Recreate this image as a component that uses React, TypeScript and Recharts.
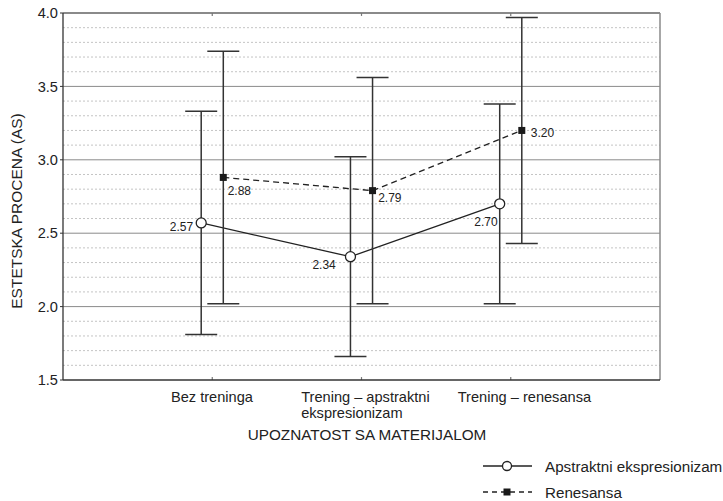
import React from 'react';
import { ComposedChart, Line, XAxis, YAxis, ErrorBar, ReferenceLine } from 'recharts';

const categories = ['Bez treninga', 'Trening – apstraktni\nekspresionizam', 'Trening – renesansa'];
const apstraktniMeans = [2.57, 2.34, 2.7];
const apstraktniErr = [0.76, 0.68, 0.68];
const renesansaMeans = [2.88, 2.79, 3.2];
const renesansaErr = [0.86, 0.77, 0.77];
const yTicks = [1.5, 2.0, 2.5, 3.0, 3.5, 4.0];
const seriesNames = ['Apstraktni ekspresionizam', 'Renesansa'];
const xAxisTitle = 'UPOZNATOST SA MATERIJALOM';
const yAxisTitle = 'ESTETSKA PROCENA (AS)';

const FONT = '"Liberation Sans", Arial, sans-serif';
const OFFSET = 0.074;

const apData = categories.map((_, i) => ({ x: i + 1 - OFFSET, y: apstraktniMeans[i], err: apstraktniErr[i] }));
const reData = categories.map((_, i) => ({ x: i + 1 + OFFSET, y: renesansaMeans[i], err: renesansaErr[i] }));

const minorValues: number[] = [];
for (let k = 16; k < 40; k++) {
  if (k % 5 !== 0) minorValues.push(k / 10);
}
const majorValues = [2.0, 2.5, 3.0, 3.5];

const apLabelPos = [
  { dx: -8, dy: 4.5, anchor: 'end' },
  { dx: -14.7, dy: 8, anchor: 'end' },
  { dx: -2, dy: 17.7, anchor: 'end' },
];
const reLabelPos = [
  { dx: 4.4, dy: 13.7, anchor: 'start' },
  { dx: 5.6, dy: 7.5, anchor: 'start' },
  { dx: 9, dy: 2.6, anchor: 'start' },
];
const tickStart = [-41.3, -60.3, -53];

const makeLabel = (pos: { dx: number; dy: number; anchor: string }[]) => (p: any) => {
  const { x, y, value, index } = p;
  const o = pos[index] || pos[0];
  return (
    <text
      key={'l' + index}
      x={x + o.dx}
      y={y + o.dy}
      textAnchor={o.anchor as any}
      dominantBaseline="central"
      fontSize={12}
      fontFamily={FONT}
      fill="#222"
    >
      {Number(value).toFixed(2)}
    </text>
  );
};

const XTick = (props: any) => {
  const { x, y, payload } = props;
  const idx = Math.round(payload.value) - 1;
  const text = categories[idx] || '';
  const lines = text.split('\n');
  return (
    <text x={x + tickStart[idx]} y={y + 21.5} textAnchor="start" fontSize={14.6} fontFamily={FONT} fill="#222">
      {lines.map((ln, i) => (
        <tspan key={i} x={x + tickStart[idx]} dy={i === 0 ? 0 : 16}>
          {ln}
        </tspan>
      ))}
    </text>
  );
};

const SquareDot = (props: any) => {
  const { cx, cy, index } = props;
  return <rect key={'sq' + index} x={cx - 3.5} y={cy - 3.5} width={7} height={7} fill="#1a1a1a" />;
};

export default function App() {
  return (
    <div style={{ position: 'absolute', left: 0, top: 0, width: 723, height: 501, background: '#fff' }}>
      <ComposedChart width={723} height={501} margin={{ top: 13, right: 63, left: 0, bottom: 0 }}>
        <XAxis
          type="number"
          dataKey="x"
          domain={[0, 4]}
          ticks={[1, 2, 3]}
          height={121}
          tickSize={0}
          tickMargin={0}
          tickLine={false}
          axisLine={{ stroke: '#333', strokeWidth: 1.3 }}
          tick={<XTick />}
          interval={0}
          label={{
            content: (p: any) => {
              const vb = p.viewBox || { x: 0, y: 380, width: 660 };
              return (
                <text
                  x={vb.x + vb.width / 2 + 5.5}
                  y={vb.y + 60}
                  textAnchor="middle"
                  fontSize={15.3}
                  fontFamily={FONT}
                  fill="#222"
                >
                  {xAxisTitle}
                </text>
              );
            },
          }}
        />
        <YAxis
          type="number"
          domain={[1.5, 4]}
          ticks={yTicks}
          width={63}
          tickSize={3}
          tickMargin={2}
          tickFormatter={(v: number) => v.toFixed(1)}
          tick={{ fontSize: 14.6, fontFamily: FONT, fill: '#222' }}
          tickLine={{ stroke: '#333' }}
          axisLine={{ stroke: '#333', strokeWidth: 1.3 }}
          label={{
            content: (p: any) => {
              const vb = p.viewBox || { x: 0, y: 13, width: 63, height: 367 };
              const cx = vb.x + 16;
              const cy = vb.y + vb.height / 2 + 14.5;
              return (
                <text
                  x={cx}
                  y={cy}
                  transform={`rotate(-90 ${cx} ${cy})`}
                  textAnchor="middle"
                  dominantBaseline="central"
                  fontSize={15.5}
                  fontFamily={FONT}
                  fill="#222"
                >
                  {yAxisTitle}
                </text>
              );
            },
          }}
        />
        {minorValues.map((v) => (
          <ReferenceLine key={'m' + v} y={v} stroke="#c4c4c4" strokeDasharray="2 2" strokeWidth={1} />
        ))}
        {majorValues.map((v) => (
          <ReferenceLine key={'M' + v} y={v} stroke="#8a8a8a" strokeWidth={1} />
        ))}
        <ReferenceLine y={4} stroke="#8a8a8a" strokeWidth={2} />
        <ReferenceLine x={4} stroke="#8a8a8a" strokeWidth={1.5} />
        {[1, 2, 3].map((t) => (
          <ReferenceLine
            key={'tb' + t}
            segment={[
              { x: t, y: 1.5 },
              { x: t, y: 1.52 },
            ]}
            stroke="#777"
            strokeWidth={1.2}
          />
        ))}
        {[1, 2, 3].map((t) => (
          <ReferenceLine
            key={'tt' + t}
            segment={[
              { x: t, y: 4 },
              { x: t, y: 3.98 },
            ]}
            stroke="#777"
            strokeWidth={1.2}
          />
        ))}
        <Line
          data={apData}
          dataKey="y"
          name={seriesNames[0]}
          stroke="#222"
          strokeWidth={1.3}
          isAnimationActive={false}
          dot={{ r: 5, fill: '#fff', stroke: '#222', strokeWidth: 1.3 }}
          activeDot={false}
          label={makeLabel(apLabelPos)}
        >
          <ErrorBar dataKey="err" direction="y" width={16} stroke="#333" strokeWidth={1.5} isAnimationActive={false} />
        </Line>
        <Line
          data={reData}
          dataKey="y"
          name={seriesNames[1]}
          stroke="#222"
          strokeWidth={1.3}
          strokeDasharray="6 4"
          isAnimationActive={false}
          dot={<SquareDot />}
          activeDot={false}
          label={makeLabel(reLabelPos)}
        >
          <ErrorBar dataKey="err" direction="y" width={16} stroke="#333" strokeWidth={1.5} isAnimationActive={false} />
        </Line>
      </ComposedChart>
      <div style={{ position: 'absolute', left: 483, top: 456, fontFamily: FONT, fontSize: 15.2, color: '#222' }}>
        <div style={{ display: 'flex', alignItems: 'center', height: 20 }}>
          <svg width={50} height={20} style={{ display: 'block' }}>
            <line x1={0} y1={10} x2={49} y2={10} stroke="#222" strokeWidth={1.3} />
            <circle cx={24} cy={10} r={4.5} fill="#fff" stroke="#222" strokeWidth={1.3} />
          </svg>
          <span style={{ marginLeft: 12, whiteSpace: 'nowrap' }}>{seriesNames[0]}</span>
        </div>
        <div style={{ display: 'flex', alignItems: 'center', height: 20, marginTop: 6 }}>
          <svg width={50} height={20} style={{ display: 'block' }}>
            <line x1={0} y1={10} x2={49} y2={10} stroke="#222" strokeWidth={1.3} strokeDasharray="5 4" />
            <rect x={20.5} y={6.5} width={7} height={7} fill="#1a1a1a" />
          </svg>
          <span style={{ marginLeft: 12, whiteSpace: 'nowrap' }}>{seriesNames[1]}</span>
        </div>
      </div>
    </div>
  );
}
